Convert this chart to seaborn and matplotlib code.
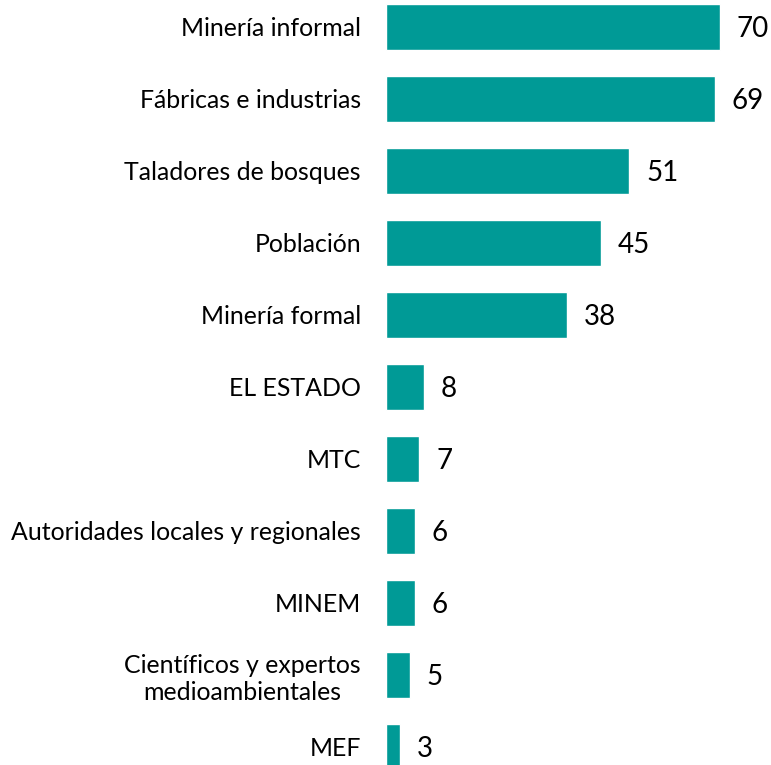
import matplotlib
matplotlib.use("Agg")
import matplotlib.pyplot as plt
import seaborn as sns
import pandas as pd

categories = ["Minería informal", "Fábricas e industrias", "Taladores de bosques",
              "Población", "Minería formal", "EL ESTADO", "MTC",
              "Autoridades locales y regionales", "MINEM",
              "Científicos y expertos\nmedioambientales", "MEF"]
values = [70, 69, 51, 45, 38, 8, 7, 6, 6, 5, 3]

df = pd.DataFrame({"cat": categories, "val": values})

sns.set_style("white")
plt.rcParams['font.family'] = ['Lato', 'DejaVu Sans']

fig = plt.figure(figsize=(7.71, 7.65), dpi=100)
ax = fig.add_axes([386/771, 0, (771-386)/771, 1])
sns.barplot(data=df, x="val", y="cat", orient="h", color="#009A96",
            saturation=1, width=0.65, ax=ax)
ax.set_xlim(0, 80.7)
ax.set_ylim(10.25, -0.375)
for s in ax.spines.values():
    s.set_visible(False)
ax.set_xticks([])
ax.set_xlabel("")
ax.set_ylabel("")
ax.tick_params(axis="y", length=0, pad=18, labelsize=17.9, labelcolor="black")
for lab in ax.get_yticklabels():
    lab.set_multialignment("center")
    lab.set_linespacing(1.2)
for i, v in enumerate(values):
    ax.text(v + 3.5, i + 0.03, str(v), va="center", ha="left", fontsize=20, color="black")

fig.savefig("out.png", dpi=100)
